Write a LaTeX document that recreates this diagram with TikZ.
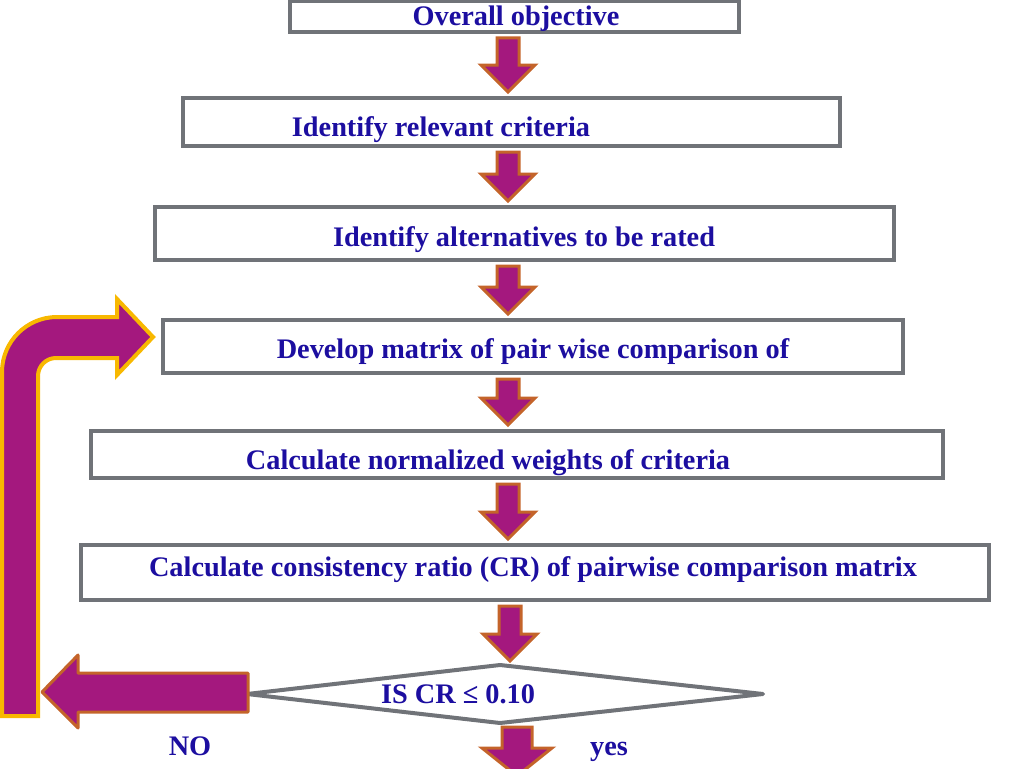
\documentclass[tikz,border=0pt]{standalone}
\usepackage{fontspec}
\setmainfont{Liberation Serif}
\usetikzlibrary{calc}
\definecolor{boxgray}{RGB}{112,115,120}
\definecolor{txtblue}{RGB}{28,14,160}
\definecolor{purp}{RGB}{164,24,126}
\definecolor{brownor}{RGB}{196,100,42}
\definecolor{gold}{RGB}{248,184,0}
\tikzset{
  box/.style={draw=boxgray, line width=4pt, fill=white, inner sep=0pt},
  txt/.style={text=txtblue, font=\fontsize{28.3}{31}\selectfont\bfseries, anchor=base, inner sep=0pt},
  downarr/.style={fill=purp, draw=brownor, line width=3pt, line join=miter},
  looparr/.style={fill=purp, draw=gold, line width=4pt, line join=miter},
  leftarr/.style={fill=purp, draw=brownor, line width=3pt, line join=round},
}
\newcommand\dnarrow[3]{%
  \filldraw[downarr] let \p1=(#1), \p2=(#2) in
    (#3pt-11pt,\y1-4pt) -- (#3pt+11pt,\y1-4pt) -- (#3pt+11pt,\y2+31pt) --
    (#3pt+27pt,\y2+31pt) -- (#3pt,\y2+4pt) -- (#3pt-27pt,\y2+31pt) --
    (#3pt-11pt,\y2+31pt) -- cycle;}
\begin{document}
\begin{tikzpicture}[x=1pt,y=-1pt]
\useasboundingbox (0,0) rectangle (1024,768);
% boxes
\node[box, minimum width=449pt, minimum height=31pt] (b1) at (514.5,16.5) {};
\node[box, minimum width=657pt, minimum height=48pt] (b2) at (511.5,122) {};
\node[box, minimum width=739pt, minimum height=53pt] (b3) at (524.5,233.5) {};
\node[box, minimum width=740pt, minimum height=53pt] (b4) at (533,346.5) {};
\node[box, minimum width=852pt, minimum height=47pt] (b5) at (517,454.5) {};
\node[box, minimum width=908pt, minimum height=55pt] (b6) at (535,572.5) {};
% diamond
\coordinate (dl) at (247,694);
\coordinate (dt) at (500,665);
\coordinate (dr) at (763,694);
\coordinate (db) at (500,723);
\draw[box, line join=round] (dl) -- (dt) -- (dr) -- (db) -- cycle;
% texts
\node[txt] (t1) at (516,26) {Overall objective};
\node[txt] (t2) at (441,136) {Identify relevant criteria};
\node[txt] (t3) at (524,246) {Identify alternatives to be rated};
\node[txt] (t4) at (533,358) {Develop matrix of pair wise comparison of};
\node[txt] (t5) at (488,469) {Calculate normalized weights of criteria};
\node[txt] (t6) at (533,576) {Calculate consistency ratio (CR) of pairwise comparison matrix};
\node[txt] (td) at (458,703) {IS CR ≤ 0.10};
\node[txt] (no) at (190,755) {NO};
\node[txt] (yes) at (609,755) {yes};
% down arrows
\dnarrow{b1.south}{b2.north}{508}
\dnarrow{b2.south}{b3.north}{508}
\dnarrow{b3.south}{b4.north}{508}
\dnarrow{b4.south}{b5.north}{508}
\dnarrow{b5.south}{b6.north}{508}
\dnarrow{b6.south}{dt}{510}
% last down arrow (yes)
\coordinate (yend) at (517,776);
\filldraw[downarr] let \p1=(db), \p2=(yend) in
  (502,727) -- (532,727) -- (532,748) -- (552,748) -- (\x2,\y2) -- (482,748) -- (502,748) -- cycle;
% loop-back arrow
\coordinate (lp) at (2,716);
\filldraw[looparr] (lp) -- (2,372) arc[start angle=180, end angle=270, radius=55] -- (117,317) -- (117,299)
  -- (153,337) -- (117,375) -- (117,358) -- (56,358) arc[start angle=270, end angle=180, radius=18]
  -- (38,716) -- cycle;
% left arrow (NO)
\filldraw[leftarr] (dl) ++(1,-21) -- ++(0,39) -- (78,712) -- (78,728) -- (42,692) -- (78,655) -- (78,673) -- cycle;
\end{tikzpicture}
\end{document}
